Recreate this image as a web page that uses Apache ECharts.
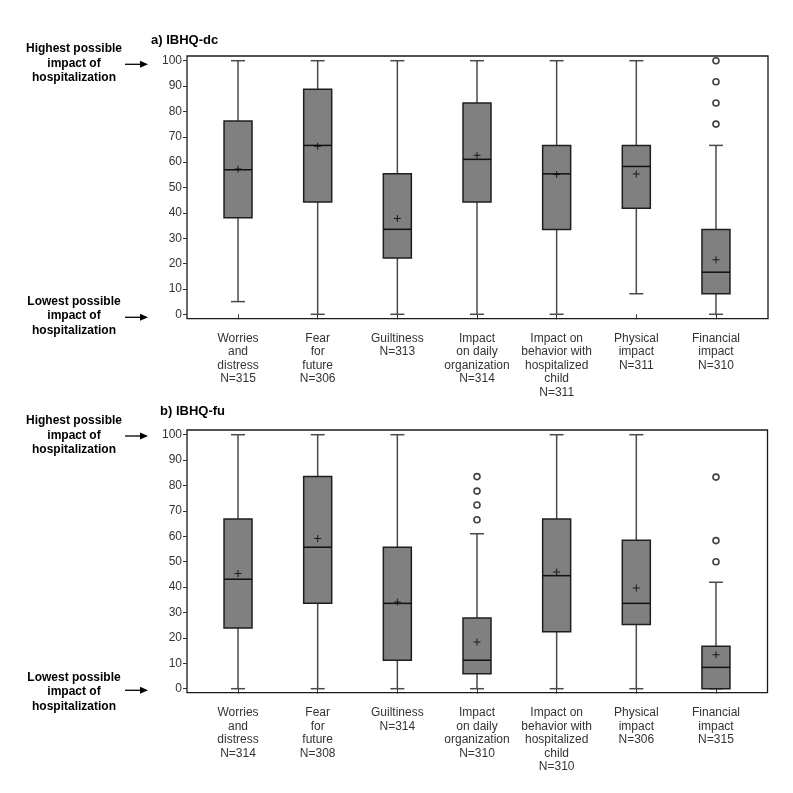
<!DOCTYPE html>
<html>
<head>
<meta charset="utf-8">
<script src="https://cdn.jsdelivr.net/npm/echarts@6/dist/echarts.min.js"></script>
<style>html,body{margin:0;padding:0;background:#fff}#c{width:793px;height:793px}</style>
</head>
<body>
<div id="c"></div>
<script>
// ---------- data ----------
const categoriesA = [
  'Worries\nand\ndistress\nN=315',
  'Fear\nfor\nfuture\nN=306',
  'Guiltiness\nN=313',
  'Impact\non daily\norganization\nN=314',
  'Impact on\nbehavior with\nhospitalized\nchild\nN=311',
  'Physical\nimpact\nN=311',
  'Financial\nimpact\nN=310'
];
const categoriesB = [
  'Worries\nand\ndistress\nN=314',
  'Fear\nfor\nfuture\nN=308',
  'Guiltiness\nN=314',
  'Impact\non daily\norganization\nN=310',
  'Impact on\nbehavior with\nhospitalized\nchild\nN=310',
  'Physical\nimpact\nN=306',
  'Financial\nimpact\nN=315'
];
// [min whisker, Q1, median, Q3, max whisker]
const boxesA = [
  [5, 38.1, 57.0, 76.2, 100],
  [0, 44.3, 66.6, 88.7, 100],
  [0, 22.2, 33.5, 55.4, 100],
  [0, 44.3, 61.1, 83.3, 100],
  [0, 33.4, 55.4, 66.6, 100],
  [8.1, 41.8, 58.3, 66.6, 100],
  [0, 8.1, 16.6, 33.4, 66.6]
];
const meansA = [57.3, 66.3, 37.8, 62.7, 55.1, 55.3, 21.5];
const outliersA = [[6, 100], [6, 91.7], [6, 83.3], [6, 75.0]];

const boxesB = [
  [0, 23.9, 43.1, 66.8, 100],
  [0, 33.6, 55.7, 83.5, 100],
  [0, 11.2, 33.6, 55.7, 100],
  [0, 5.9, 11.2, 27.8, 61.0],
  [0, 22.4, 44.5, 66.8, 100],
  [0, 25.3, 33.6, 58.4, 100],
  [0, 0, 8.4, 16.7, 41.9]
];
const meansB = [45.4, 59.1, 34.1, 18.4, 45.9, 39.6, 13.4];
const outliersB = [[3, 83.5], [3, 77.8], [3, 72.3], [3, 66.5], [6, 83.3], [6, 58.3], [6, 50.0]];

const titles = ['a) IBHQ-dc', 'b) IBHQ-fu'];
const highText = 'Highest possible\nimpact of\nhospitalization';
const lowText = 'Lowest possible\nimpact of\nhospitalization';

// ---------- chart ----------
const chart = echarts.init(document.getElementById('c'), null, {renderer: 'canvas'});
const FONT = '"Liberation Sans", Arial, sans-serif';

function boxRender(params, api) {
  const i = api.value(0);
  const pMin = api.coord([i, api.value(1)]);
  const pQ1 = api.coord([i, api.value(2)]);
  const pMed = api.coord([i, api.value(3)]);
  const pQ3 = api.coord([i, api.value(4)]);
  const pMax = api.coord([i, api.value(5)]);
  const cx = pMed[0];
  const hw = 14, cw = 7;
  const wStyle = {stroke: '#4a4a4a', lineWidth: 1.5};
  return {
    type: 'group',
    children: [
      {type: 'line', shape: {x1: cx, y1: pQ3[1], x2: cx, y2: pMax[1]}, style: wStyle},
      {type: 'line', shape: {x1: cx, y1: pQ1[1], x2: cx, y2: pMin[1]}, style: wStyle},
      {type: 'line', shape: {x1: cx - cw, y1: pMax[1], x2: cx + cw, y2: pMax[1]}, style: wStyle},
      {type: 'line', shape: {x1: cx - cw, y1: pMin[1], x2: cx + cw, y2: pMin[1]}, style: wStyle},
      {type: 'rect', shape: {x: cx - hw, y: pQ3[1], width: hw * 2, height: pQ1[1] - pQ3[1]},
        style: {fill: '#808080', stroke: '#1e1e1e', lineWidth: 1.5}},
      {type: 'line', shape: {x1: cx - hw, y1: pMed[1], x2: cx + hw, y2: pMed[1]},
        style: {stroke: '#111', lineWidth: 1.5}}
    ]
  };
}

function panelSeries(gi, boxes, means, outliers) {
  return [
    {
      type: 'custom', xAxisIndex: gi, yAxisIndex: gi,
      renderItem: boxRender,
      encode: {x: 0, y: [1, 2, 3, 4, 5]},
      data: boxes.map((b, i) => [i].concat(b)),
      z: 2
    },
    {
      type: 'scatter', xAxisIndex: gi, yAxisIndex: gi,
      symbol: 'path://M3,0H4V3H7V4H4V7H3V4H0V3H3Z',
      symbolSize: 7,
      itemStyle: {color: '#000'},
      data: means.map((m, i) => [i, m]),
      z: 5
    },
    {
      type: 'scatter', xAxisIndex: gi, yAxisIndex: gi,
      symbol: 'circle', symbolSize: 6,
      itemStyle: {color: '#fff', borderColor: '#111', borderWidth: 1.6},
      data: outliers,
      z: 5
    }
  ];
}

function xAxisFor(gi, cats) {
  return {
    type: 'category', gridIndex: gi, data: cats, boundaryGap: true,
    offset: 4.4,
    axisLine: {show: false},
    axisTick: {show: true, alignWithLabel: true, length: 5, lineStyle: {color: '#333', width: 1}},
    axisLabel: {color: '#333', fontFamily: FONT, fontSize: 12, lineHeight: 13.5, margin: 13, interval: 0, align: 'center'},
    splitLine: {show: false}
  };
}
function yAxisFor(gi) {
  return {
    type: 'value', gridIndex: gi, min: 0, max: 100, interval: 10,
    offset: 11.2,
    axisLine: {show: false},
    axisTick: {show: true, length: 4, lineStyle: {color: '#333', width: 1}},
    axisLabel: {color: '#333', fontFamily: FONT, fontSize: 12, margin: 5},
    splitLine: {show: false}
  };
}

function arrow(x1, x2, y) {
  return [
    {type: 'line', shape: {x1: x1, y1: y, x2: x2 - 6, y2: y}, style: {stroke: '#000', lineWidth: 1.3}},
    {type: 'polygon', shape: {points: [[x2 - 8, y - 3.5], [x2, y], [x2 - 8, y + 3.5]]}, style: {fill: '#000'}}
  ];
}
function sideText(txt, y) {
  return {type: 'text', x: 74, y: y, style: {text: txt, fill: '#000', font: 'bold 12px ' + FONT, align: 'center', verticalAlign: 'top', lineHeight: 14.3}};
}

const frameStyle = {fill: 'none', stroke: '#1a1a1a', lineWidth: 1.3};

const option = {
  backgroundColor: '#fff',
  animation: false,
  grid: [
    {left: 198.2, right: 37.2, top: 60.7, bottom: 478.7, containLabel: false},
    {left: 198.2, right: 37.2, top: 434.7, bottom: 104.3, containLabel: false}
  ],
  xAxis: [xAxisFor(0, categoriesA), xAxisFor(1, categoriesB)],
  yAxis: [yAxisFor(0), yAxisFor(1)],
  series: panelSeries(0, boxesA, meansA, outliersA).concat(panelSeries(1, boxesB, meansB, outliersB)),
  graphic: [
    {type: 'rect', shape: {x: 187, y: 56, width: 581, height: 262.7}, style: frameStyle, silent: true},
    {type: 'rect', shape: {x: 187, y: 430, width: 580.5, height: 262.7}, style: frameStyle, silent: true},
    {type: 'text', x: 151, y: 40, style: {text: titles[0], fill: '#000', font: 'bold 13px ' + FONT, verticalAlign: 'middle'}},
    {type: 'text', x: 160, y: 411, style: {text: titles[1], fill: '#000', font: 'bold 13px ' + FONT, verticalAlign: 'middle'}},
    sideText(highText, 42),
    sideText(lowText, 294.5),
    sideText(highText, 414),
    sideText(lowText, 670.5)
  ].concat(arrow(125, 148, 64.3), arrow(125, 148, 317.3), arrow(125, 148, 436), arrow(125, 148, 690.3))
};
chart.setOption(option);
</script>
</body>
</html>
